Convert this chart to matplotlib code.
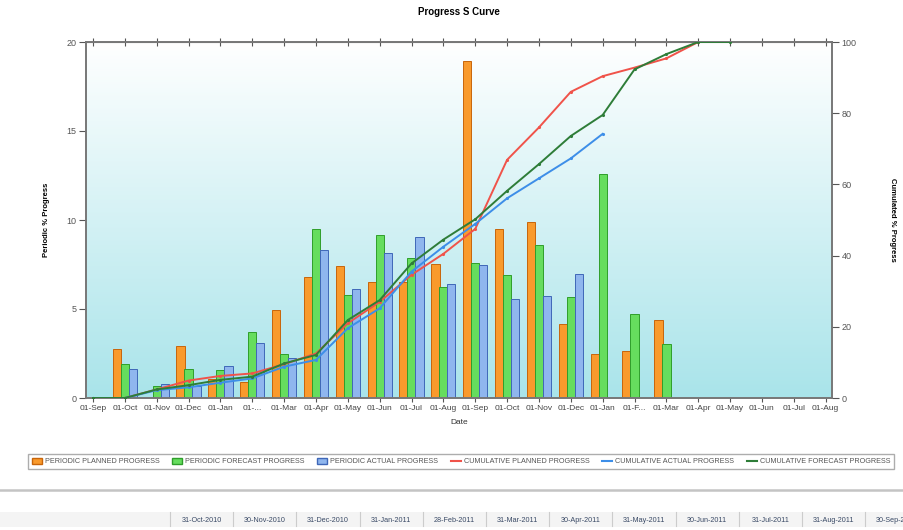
import numpy as np
import matplotlib
matplotlib.use('Agg')
from matplotlib import pyplot as plt
from matplotlib.patches import Patch, Rectangle
from matplotlib.lines import Line2D
from matplotlib.colors import LinearSegmentedColormap

plt.rcParams['font.family'] = ['Liberation Sans', 'DejaVu Sans']

# Nhãn trục x (tháng 9/2010 -> 8/2012)
months = ['01-Sep', '01-Oct', '01-Nov', '01-Dec', '01-Jan', '01-...', '01-Mar', '01-Apr',
          '01-May', '01-Jun', '01-Jul', '01-Aug', '01-Sep', '01-Oct', '01-Nov', '01-Dec',
          '01-Jan', '01-F...', '01-Mar', '01-Apr', '01-May', '01-Jun', '01-Jul', '01-Aug']

# Tiến độ theo kỳ (%)
periodic_planned = [0, 2.73, 0, 2.92, 1.05, 0.92, 4.94, 6.78, 7.43, 6.54, 6.5, 7.55,
                    18.95, 9.51, 9.87, 4.16, 2.47, 2.64, 4.36]
periodic_forecast = [0, 1.89, 0.69, 1.63, 1.57, 3.71, 2.47, 9.51, 5.79, 9.14, 7.88, 6.26,
                     7.57, 6.91, 8.61, 5.66, 12.58, 4.70, 3.01]
periodic_actual = [0, 1.63, 0.79, 0.70, 1.82, 3.11, 2.23, 8.30, 6.10, 8.15, 9.04, 6.42,
                   7.47, 5.54, 5.75, 6.99]

# Tiến độ lũy kế (%)
cum_planned = [0, 0, 2.4, 4.9, 6.2, 6.9, 9.5, 12.5, 21.0, 27.0, 34.6, 40.5,
               47.5, 66.9, 76.0, 86.0, 90.4, 92.8, 95.4, 100]
cum_actual = [0, 0, 2.2, 3.0, 4.3, 5.5, 8.8, 10.7, 19.6, 25.2, 35.5, 42.5,
              48.9, 56.1, 61.7, 67.3, 74.2]
cum_forecast = [0, 0, 2.4, 3.6, 5.1, 6.0, 9.7, 12.1, 21.9, 27.5, 37.8, 44.5,
                50.2, 58.2, 65.7, 73.6, 79.5, 92.3, 96.6, 100, 100]

# Hàng ngày ở bảng phía dưới
table_dates = ['31-Oct-2010', '30-Nov-2010', '31-Dec-2010', '31-Jan-2011', '28-Feb-2011',
               '31-Mar-2011', '30-Apr-2011', '31-May-2011', '30-Jun-2011', '31-Jul-2011',
               '31-Aug-2011', '30-Sep-2011']

W, H = 904, 530
fig = plt.figure(figsize=(W / 100, H / 100), dpi=100)
fig.patch.set_facecolor('white')

ax = fig.add_axes([86 / W, 1 - 398 / H, (832 - 86) / W, (398 - 42) / H])
x = np.arange(len(months))

# Nền gradient
cmap = LinearSegmentedColormap.from_list('bg', ['#a9e4ea', '#ffffff'])
grad = np.linspace(0, 1, 256).reshape(-1, 1)
ax.imshow(grad, extent=[0, 1, 0, 1], transform=ax.transAxes, aspect='auto',
          cmap=cmap, origin='lower', zorder=0)

bw = 0.26
off = 0.25
ax.bar(x[:len(periodic_planned)] - off, periodic_planned, bw, color='#f99a2c',
       edgecolor='#c8650a', linewidth=0.7, zorder=2)
ax.bar(x[:len(periodic_forecast)], periodic_forecast, bw, color='#66dd5e',
       edgecolor='#2f9e2b', linewidth=0.7, zorder=2)
ax.bar(x[:len(periodic_actual)] + off, periodic_actual, bw, color='#8fb6ee',
       edgecolor='#3f67b8', linewidth=0.7, zorder=2)

ax.set_xlim(-0.22, 23.2)
ax.set_ylim(0, 20)
ax.set_yticks([0, 5, 10, 15, 20])
ax.set_xticks(x)
ax.set_xticklabels(months)
ax.tick_params(axis='x', direction='out', length=3, pad=2, labelsize=6, colors='#555555',
               labelcolor='#444444')
ax.tick_params(axis='y', direction='out', length=5, pad=2, labelsize=6.5, colors='#555555',
               labelcolor='#555555')
ax.set_xlabel('Date', fontsize=6, color='#333333', labelpad=5)
ax.set_ylabel('Periodic % Progress', fontsize=5.5, fontweight='bold', labelpad=12)
for s in ax.spines.values():
    s.set_color('#777777')
    s.set_linewidth(1.2)

top = ax.secondary_xaxis('top')
top.set_xticks(x)
top.set_xticklabels([])
top.tick_params(direction='inout', length=6, colors='#555555')
top.spines['top'].set_color('#777777')

ax2 = ax.twinx()
ax2.plot(x[:len(cum_planned)], cum_planned, color='#f0534a', lw=1.4, marker='.',
         markersize=2.5, zorder=3)
ax2.plot(x[:len(cum_actual)], cum_actual, color='#3d8ee8', lw=1.4, marker='.',
         markersize=2.5, zorder=3)
ax2.plot(x[:len(cum_forecast)], cum_forecast, color='#2e7d38', lw=1.4, marker='.',
         markersize=2.5, zorder=3)
ax2.set_ylim(0, 100)
ax2.set_yticks([0, 20, 40, 60, 80, 100])
ax2.tick_params(axis='y', direction='out', length=5, pad=2, labelsize=6.5, colors='#555555',
                labelcolor='#555555')
ax2.set_ylabel('Cumulated % Progress', fontsize=5.5, fontweight='bold', rotation=270,
               labelpad=28)
for s in ax2.spines.values():
    s.set_color('#777777')
    s.set_linewidth(1.2)

fig.text(459 / W, 1 - 12 / H, 'Progress S Curve', ha='center', va='center',
         fontsize=7, fontweight='bold')

# Chú giải
handles = [Patch(facecolor='#f99a2c', edgecolor='#c8650a'),
           Patch(facecolor='#66dd5e', edgecolor='#2f9e2b'),
           Patch(facecolor='#8fb6ee', edgecolor='#3f67b8'),
           Line2D([], [], color='#f0534a', lw=1.5),
           Line2D([], [], color='#3d8ee8', lw=1.5),
           Line2D([], [], color='#2e7d38', lw=1.5)]
labels = ['PERIODIC PLANNED PROGRESS', 'PERIODIC FORECAST PROGRESS', 'PERIODIC ACTUAL PROGRESS',
          'CUMULATIVE PLANNED PROGRESS', 'CUMULATIVE ACTUAL PROGRESS',
          'CUMULATIVE FORECAST PROGRESS']
leg = fig.legend(handles, labels, loc='center', ncol=6, fontsize=5.2,
                 bbox_to_anchor=(28 / W, 1 - 471 / H, 866 / W, 19 / H), mode='expand',
                 frameon=True, fancybox=False, handlelength=1.4, handleheight=0.9,
                 handletextpad=0.4, columnspacing=0.6, borderpad=0.5, borderaxespad=0)
leg.get_frame().set_edgecolor('#999999')
leg.get_frame().set_linewidth(1.0)
for t in leg.get_texts():
    t.set_color('#555555')

# Đường kẻ ngang và bảng ngày phía dưới
fig.add_artist(Line2D([0, 1], [1 - 490 / H, 1 - 490 / H], color='#c4c4c4', lw=1.8,
                      transform=fig.transFigure))
fig.add_artist(Rectangle((0, 1 - 527 / H), 1, 15 / H, facecolor='#f4f4f4',
                         edgecolor='none', transform=fig.transFigure))
x0, cw = 170, 63.2
for k, d in enumerate(table_dates):
    xl = x0 + cw * k
    fig.add_artist(Line2D([xl / W, xl / W], [1 - 526 / H, 1 - 512 / H], color='#cccccc',
                          lw=0.8, transform=fig.transFigure))
    fig.text((xl + cw / 2) / W, 1 - 519 / H, d, ha='center', va='center_baseline',
             fontsize=5.2, color='#3a4a66')

fig.savefig('out.png', dpi=100)
